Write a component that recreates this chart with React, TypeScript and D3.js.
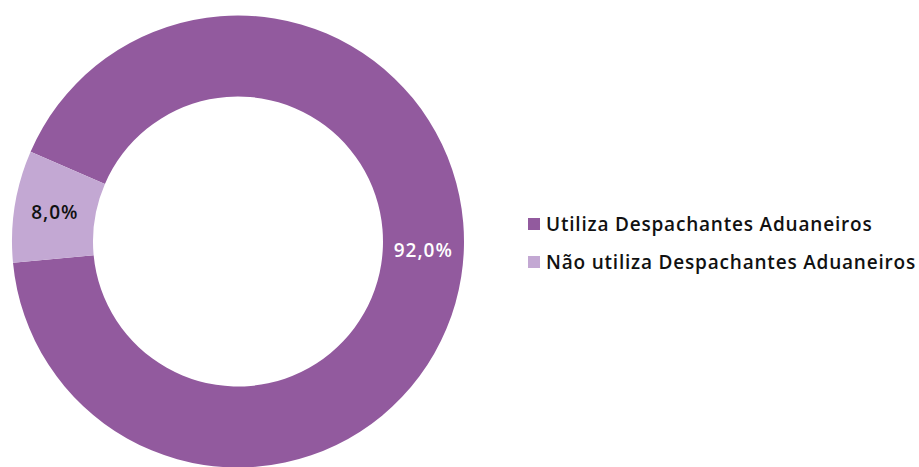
import { useRef, useEffect } from "react";
import * as d3 from "d3";

const categories = ["Utiliza Despachantes Aduaneiros", "Não utiliza Despachantes Aduaneiros"];
const values = [92.0, 8.0];
const colors = ["#925A9E", "#C3A8D3"];
const labelColors = ["#ffffff", "#111111"];

export default function App() {
  const ref = useRef<SVGSVGElement>(null);
  useEffect(() => {
    if (!ref.current) return;
    const svg = d3.select(ref.current);
    svg.selectAll("*").remove();
    const cx = 238, cy = 241.5, outerR = 226, innerR = 145;
    const font = "'Open Sans', sans-serif";
    const data = categories.map((c, i) => ({ name: c, value: values[i], color: colors[i], label: labelColors[i] }));
    const start = (-66.6 * Math.PI) / 180;
    const pie = d3.pie<typeof data[0]>().value(d => d.value).sort(null).startAngle(start).endAngle(start + 2 * Math.PI);
    const arc = d3.arc<d3.PieArcDatum<typeof data[0]>>().innerRadius(innerR).outerRadius(outerR);
    const arcs = pie(data);
    const g = svg.append("g").attr("transform", `translate(${cx},${cy})`);
    g.selectAll("path").data(arcs).join("path").attr("d", arc).attr("fill", d => d.data.color);
    const labelR = (innerR + outerR) / 2;
    // big slice label sits at 3 o'clock, small one at its centroid
    const labelAngle = (d: d3.PieArcDatum<typeof data[0]>) =>
      d.data.value > 50 ? Math.PI / 2 + 0.05 : (d.startAngle + d.endAngle) / 2;
    g.selectAll(".lbl").data(arcs).join("text")
      .attr("x", d => Math.sin(labelAngle(d)) * labelR)
      .attr("y", d => -Math.cos(labelAngle(d)) * labelR)
      .attr("dy", "0.35em").attr("text-anchor", "middle")
      .attr("fill", d => d.data.label).attr("font-size", "19px").attr("font-weight", 600)
      .attr("letter-spacing", "1px")
      .attr("font-family", font).text(d => d.data.value.toFixed(1).replace(".", ",") + "%");
    const legend = svg.append("g").attr("transform", "translate(528,0)");
    const ly = d3.scalePoint().domain(categories).range([224, 262]);
    legend.selectAll("rect").data(data).join("rect")
      .attr("x", 0).attr("y", d => ly(d.name)! - 6).attr("width", 12).attr("height", 12).attr("fill", d => d.color);
    legend.selectAll("text").data(data).join("text")
      .attr("x", 18).attr("y", d => ly(d.name)!).attr("dy", "0.36em")
      .attr("fill", "#111111").attr("font-size", "19px").attr("font-weight", 600)
      .attr("letter-spacing", "0.8px")
      .attr("font-family", font).text(d => d.name);
  }, []);
  return (
    <div style={{ position: "absolute", left: 0, top: 0 }}>
      <svg ref={ref} width={919} height={467} style={{ display: "block" }} />
    </div>
  );
}
